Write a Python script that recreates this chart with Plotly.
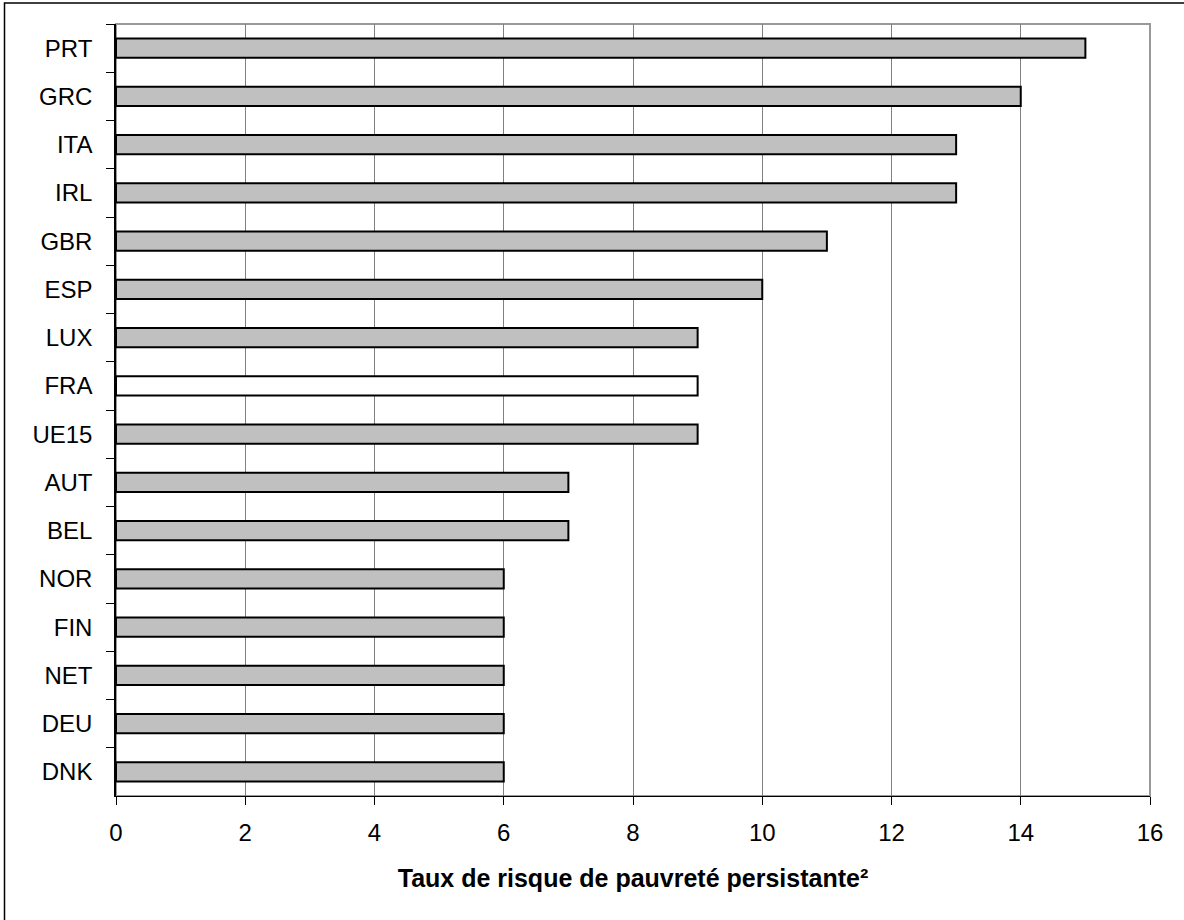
import plotly.graph_objects as go

countries = ["PRT", "GRC", "ITA", "IRL", "GBR", "ESP", "LUX", "FRA", "UE15",
             "AUT", "BEL", "NOR", "FIN", "NET", "DEU", "DNK"]
values = [15, 14, 13, 13, 11, 10, 9, 9, 9, 7, 7, 6, 6, 6, 6, 6]
highlight = "FRA"
x_title = "Taux de risque de pauvreté persistante²"

colors = ["#FFFFFF" if c == highlight else "#C0C0C0" for c in countries]

W, H = 1184, 920
L, R, T, B = 116, 34, 24, 124
pw, ph = W - L - R, H - T - B

def px(xp):
    return (xp - L) / pw

def py(yp):
    return (H - B - yp) / ph

fig = go.Figure(go.Bar(
    x=values, y=countries, orientation="h",
    marker=dict(color=colors, line=dict(color="black", width=2)),
    width=0.4,
))

font = "Liberation Sans, Arial, sans-serif"

fig.update_layout(
    width=W, height=H, autosize=False,
    margin=dict(l=L, r=R, t=T, b=B),
    paper_bgcolor="white", plot_bgcolor="white",
    showlegend=False,
    font=dict(family=font, color="black"),
    xaxis=dict(
        range=[0, 16], dtick=2, tick0=0,
        ticks="outside", ticklen=8, tickcolor="black",
        showgrid=True, gridcolor="#808080", gridwidth=1,
        showline=True, linecolor="black", linewidth=1,
        zeroline=False,
        tickfont=dict(size=24, family=font),
        ticklabelstandoff=7,
        title=dict(text="<b>" + x_title + "</b>",
                   font=dict(size=25, family=font), standoff=24),
    ),
    yaxis=dict(
        categoryorder="array", categoryarray=countries,
        autorange="reversed",
        tickson="boundaries", ticks="outside", ticklen=8, tickcolor="black",
        showgrid=False, showline=True, linecolor="black", linewidth=1.5,
        tickfont=dict(size=24, family=font),
        ticklabelstandoff=17,
    ),
    shapes=[
        dict(type="rect", xref="paper", yref="paper",
             x0=0, x1=1, y0=0, y1=1,
             line=dict(color="#999999", width=2), layer="below"),
        dict(type="rect", xref="paper", yref="paper",
             x0=px(4.5), x1=px(1500), y0=py(3), y1=py(1300),
             line=dict(color="black", width=1.5), layer="above"),
    ],
)

fig.write_html(
    "out.html",
    config={"displayModeBar": False},
    post_script="document.body.style.margin='0';document.body.style.overflow='hidden';",
)
